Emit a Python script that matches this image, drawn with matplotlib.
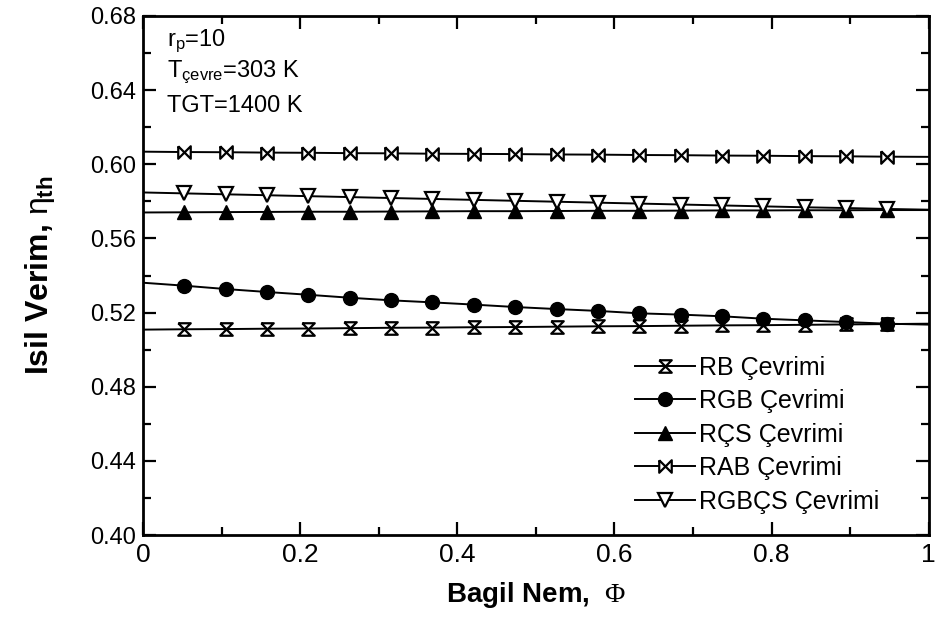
import numpy as np
import matplotlib
matplotlib.use("Agg")
import matplotlib.pyplot as plt
from matplotlib.ticker import MultipleLocator, FormatStrFormatter, FuncFormatter

plt.rcParams['font.family'] = ['Liberation Sans', 'DejaVu Sans']
plt.rcParams['mathtext.fontset'] = 'custom'
plt.rcParams['mathtext.rm'] = 'Liberation Sans'
plt.rcParams['mathtext.it'] = 'Liberation Sans'
plt.rcParams['mathtext.bf'] = 'Liberation Sans:bold'
plt.rcParams['mathtext.sf'] = 'Liberation Serif'

# Relative humidity (x)
phi = [0.0, 1/19, 2/19, 3/19, 4/19, 5/19, 6/19, 7/19, 8/19, 9/19, 10/19,
       11/19, 12/19, 13/19, 14/19, 15/19, 16/19, 17/19, 18/19, 1.0]

rb = [0.5108, 0.5110, 0.5111, 0.5113, 0.5114, 0.5116, 0.5118, 0.5119, 0.5121, 0.5122,
      0.5124, 0.5126, 0.5127, 0.5129, 0.5131, 0.5132, 0.5134, 0.5136, 0.5138, 0.5140]
rgb = [0.5361, 0.5345, 0.5327, 0.5311, 0.5296, 0.5280, 0.5266, 0.5255, 0.5243, 0.5230,
       0.5219, 0.5209, 0.5196, 0.5189, 0.5180, 0.5167, 0.5158, 0.5149, 0.5140, 0.5135]
rcs = [0.5740, 0.5741, 0.5742, 0.5743, 0.5744, 0.5744, 0.5745, 0.5746, 0.5747, 0.5747,
       0.5748, 0.5749, 0.5749, 0.5750, 0.5751, 0.5751, 0.5752, 0.5752, 0.5753, 0.5753]
rab = [0.6068, 0.6066, 0.6065, 0.6063, 0.6062, 0.6060, 0.6059, 0.6057, 0.6056, 0.6055,
       0.6053, 0.6052, 0.6050, 0.6049, 0.6047, 0.6046, 0.6044, 0.6043, 0.6041, 0.6040]
rgbcs = [0.5848, 0.5843, 0.5838, 0.5833, 0.5828, 0.5823, 0.5818, 0.5813, 0.5808, 0.5803,
         0.5798, 0.5793, 0.5788, 0.5783, 0.5778, 0.5773, 0.5768, 0.5764, 0.5759, 0.5755]

labels = ['RB Çevrimi', 'RGB Çevrimi', 'RÇS Çevrimi', 'RAB Çevrimi', 'RGBÇS Çevrimi']

hourglass = [(-1, 1), (1, 1), (-1, -1), (1, -1), (-1, 1)]
bowtie = [(-1, 1), (1, -1), (1, 1), (-1, -1), (-1, 1)]

fig = plt.figure(figsize=(9.38, 6.29), dpi=100)
ax = fig.add_axes([0.1525, 0.1494, 0.8375, 0.8252])

mk = slice(1, 19)
lw = 1.4
ax.plot(phi, rb, color='black', lw=lw, marker=hourglass, ms=9, mfc='white', mec='black', mew=1.6,
        markevery=mk, label=labels[0])
ax.plot(phi, rgb, color='black', lw=lw, marker='o', ms=10, mfc='black', mec='black',
        markevery=mk, label=labels[1])
ax.plot(phi, rcs, color='black', lw=lw, marker='^', ms=10, mfc='black', mec='black',
        markevery=mk, label=labels[2])
ax.plot(phi, rab, color='black', lw=lw, marker=bowtie, ms=9, mfc='white', mec='black', mew=1.6,
        markevery=mk, label=labels[3])
ax.plot(phi, rgbcs, color='black', lw=lw, marker='v', ms=10, mfc='white', mec='black', mew=1.6,
        markevery=mk, label=labels[4])

ax.set_xlim(0, 1)
ax.set_ylim(0.40, 0.68)
ax.xaxis.set_major_locator(MultipleLocator(0.2))
ax.xaxis.set_minor_locator(MultipleLocator(0.1))
ax.yaxis.set_major_locator(MultipleLocator(0.04))
ax.yaxis.set_minor_locator(MultipleLocator(0.02))
ax.yaxis.set_major_formatter(FormatStrFormatter('%.2f'))
ax.xaxis.set_major_formatter(FuncFormatter(
    lambda v, p: '0' if abs(v) < 1e-9 else ('1' if abs(v - 1) < 1e-9 else f'{v:.1f}')))

ax.tick_params(which='both', direction='in', top=True, right=True, width=1.6)
ax.tick_params(which='major', length=9.5)
ax.tick_params(axis='x', which='major', pad=6, labelsize=19)
ax.tick_params(axis='y', which='major', pad=5, labelsize=17)
ax.tick_params(which='minor', length=6)
for s in ax.spines.values():
    s.set_linewidth(2)

ax.set_xlabel(r'Bagil Nem,  $\mathsf{\Phi}$', fontsize=20, fontweight='bold', labelpad=9)
ax.set_ylabel(r'Isil Verim, $\eta_{\mathbf{th}}$', fontsize=23, fontweight='bold', labelpad=24)

ax.text(0.03, 0.952, r'r$_\mathrm{p}$=10', transform=ax.transAxes, fontsize=17, va='center')
ax.text(0.03, 0.892, r'T$_\mathrm{çevre}$=303 K', transform=ax.transAxes, fontsize=17, va='center')
ax.text(0.03, 0.826, r'TGT=1400 K', transform=ax.transAxes, fontsize=17, va='center')

leg = ax.legend(loc='lower right', bbox_to_anchor=(0.95, 0.022), borderaxespad=0,
                frameon=False, fontsize=18,
                handlelength=2.4, handletextpad=0.15, labelspacing=0.38)

fig.savefig('out.png', dpi=100)
